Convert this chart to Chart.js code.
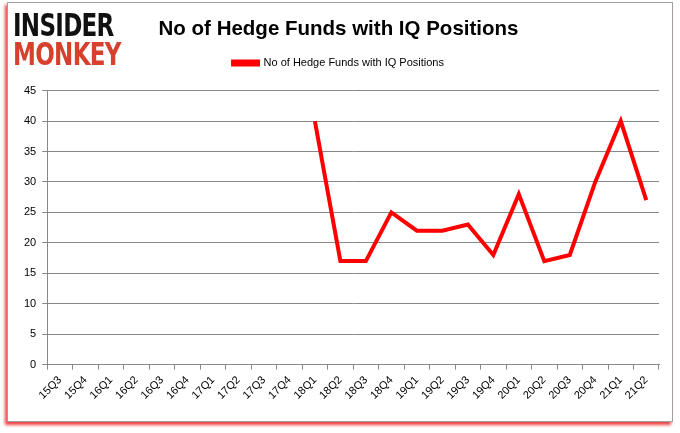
<!DOCTYPE html>
<html>
<head>
    <title>No of Hedge Funds with IQ Positions</title>
    <script src="https://cdn.jsdelivr.net/npm/chart.js"></script>
    <style>
        body {
            margin: 0;
            background: #fff;
        }
        .frame {
            position: absolute;
            left: 7px;
            top: 2px;
            width: 664px;
            height: 418px;
            border: 1px solid #a0a0a0;
            box-shadow: -2px 3px 3px rgba(230, 0, 0, 0.75);
            background: #fff;
        }
        .chart-container {
            position: absolute;
            left: 0;
            top: 0;
            width: 664px;
            height: 418px;
        }
        .logo {
            position: absolute;
            left: 5px;
            top: 8px;
            font-family: "DejaVu Sans", sans-serif;
            font-weight: bold;
            font-size: 32px;
            line-height: 29px;
            letter-spacing: -1px;
            transform: scaleX(0.72);
            transform-origin: left top;
        }
        .logo .top { color: #111; }
        .logo .bottom { color: #d6402c; }
    </style>
</head>
<body>
    <div class="frame">
        <div class="chart-container">
            <canvas id="hedgeChart"></canvas>
        </div>
        <div class="logo">
            <div class="top">INSIDER</div>
            <div class="bottom">MONKEY</div>
        </div>
    </div>

    <script>
        // quarters shown on the x axis
        const quarters = ['15Q3', '15Q4', '16Q1', '16Q2', '16Q3', '16Q4', '17Q1', '17Q2',
            '17Q3', '17Q4', '18Q1', '18Q2', '18Q3', '18Q4', '19Q1', '19Q2', '19Q3', '19Q4',
            '20Q1', '20Q2', '20Q3', '20Q4', '21Q1', '21Q2'];
        // number of funds, no data before 18Q1
        const fundCounts = [null, null, null, null, null, null, null, null,
            null, null, 40, 17, 17, 25, 22, 22, 23, 18,
            28, 17, 18, 30, 40, 27];
        const yTicks = [0, 5, 10, 15, 20, 25, 30, 35, 40, 45];

        const seriesName = 'No of Hedge Funds with IQ Positions';

        // push the plot area a bit further below the legend
        const legendGap = {
            id: 'legendGap',
            beforeInit(chart) {
                const fit = chart.legend.fit;
                chart.legend.fit = function() {
                    fit.bind(chart.legend)();
                    this.height += 12;
                };
            }
        };

        new Chart(document.getElementById('hedgeChart'), {
            type: 'line',
            data: {
                labels: quarters,
                datasets: [{
                    label: seriesName,
                    data: fundCounts,
                    borderColor: '#ff0000',
                    backgroundColor: '#ff0000',
                    borderWidth: 4,
                    pointRadius: 0,
                    tension: 0,
                    spanGaps: false
                }]
            },
            options: {
                responsive: true,
                maintainAspectRatio: false,
                animation: false,
                layout: {
                    padding: { left: 10, right: 13, top: 8, bottom: 15 }
                },
                plugins: {
                    tooltip: { enabled: false },
                    title: {
                        display: true,
                        text: seriesName,
                        color: '#000',
                        font: { family: 'Liberation Sans', size: 20.5, weight: 'bold' },
                        padding: { top: 6, bottom: 8 }
                    },
                    legend: {
                        display: true,
                        labels: {
                            boxWidth: 25,
                            boxHeight: 3,
                            color: '#000',
                            font: { family: 'Liberation Sans', size: 11 },
                            padding: 8
                        }
                    }
                },
                scales: {
                    x: {
                        offset: true,
                        grid: {
                            offset: true,
                            drawOnChartArea: false,
                            drawTicks: true,
                            tickLength: 5,
                            color: '#888'
                        },
                        border: { color: '#888' },
                        ticks: {
                            maxRotation: 45,
                            minRotation: 45,
                            autoSkip: false,
                            padding: 4,
                            color: '#000',
                            font: { family: 'Liberation Sans', size: 11 }
                        }
                    },
                    y: {
                        min: 0,
                        max: 45,
                        afterBuildTicks: function(axis) {
                            axis.ticks = yTicks.map(v => ({ value: v }));
                        },
                        grid: {
                            color: '#888',
                            tickLength: 5
                        },
                        border: { color: '#888' },
                        ticks: {
                            color: '#000',
                            padding: 6,
                            font: { family: 'Liberation Sans', size: 11 }
                        }
                    }
                }
            },
            plugins: [legendGap]
        });
    </script>
</body>
</html>
